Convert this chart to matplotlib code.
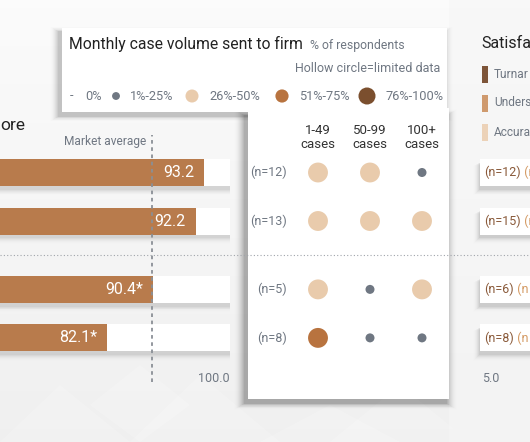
import numpy as np
import matplotlib
matplotlib.use("Agg")
import matplotlib.pyplot as plt
from matplotlib.patches import Rectangle, Polygon

plt.rcParams['font.family'] = ['Roboto', 'DejaVu Sans']

# ---------------- data ----------------
score_labels = ["93.2", "92.2", "90.4*", "82.1*"]
bar_lengths = [88.7, 85.2, 66.5, 46.5]          # read on a 0-100 track scale
market_average = 66.1
track_max = 100.0
row_group = [0, 0, 1, 1]

volume_columns = ["1-49\ncases", "50-99\ncases", "100+\ncases"]
row_counts = ["(n=12)", "(n=13)", "(n=5)", "(n=8)"]
# volume band index: 0='0%', 1='1%-25%', 2='26%-50%', 3='51%-75%', 4='76%-100%'
volume_bands = [[2, 2, 1],
                [2, 2, 2],
                [2, 1, 2],
                [3, 1, 1]]
band_labels = ["0%", "1%-25%", "26%-50%", "51%-75%", "76%-100%"]
band_colors = ["#9aa0a8", "#6f7782", "#e9cbac", "#b8733f", "#7b4f2e"]
band_sizes_grid = [0, 42, 205, 205, 260]
band_sizes_legend = [0, 32, 88, 90, 150]

sat_counts = ["(n=12)", "(n=15)", "(n=6)", "(n=8)"]
sat_legend = ["Turnar", "Unders", "Accura"]   # visible (cropped) part of the labels
sat_colors = ["#7e5539", "#cf9a6e", "#ecd2b8"]

# ---------------- layout helpers ----------------
W, H = 530, 442
fig = plt.figure(figsize=(W / 100, H / 100), dpi=100)

def fr(x0, y0, x1, y1):
    return [x0 / W, 1 - y1 / H, (x1 - x0) / W, (y1 - y0) / H]

bg = fig.add_axes([0, 0, 1, 1])
bg.set_xlim(0, W); bg.set_ylim(H, 0); bg.axis('off')

# background gradient
grad = np.linspace(0, 1, 200)[:, None]
top = np.array([0.985, 0.985, 0.985]); bot = np.array([0.94, 0.94, 0.94])
img = top[None, None, :] * (1 - grad[..., None]) + bot[None, None, :] * grad[..., None]
bg.imshow(img, extent=(0, W, H, 0), aspect='auto', zorder=0)
# faint diamond pattern
for pts in [[(0, 442), (60, 385), (130, 442)], [(130, 442), (200, 375), (280, 442)],
            [(330, 442), (400, 385), (470, 442)], [(90, 405), (140, 365), (190, 405), (140, 442)],
            [(260, 442), (330, 405), (400, 442)]]:
    bg.add_patch(Polygon(pts, closed=True, fc='white', ec='none', alpha=0.18, zorder=0.5))

def shadow(ax, x0, y0, x1, y1, dx=2, dy=4, spread=8, strength=0.05, z=1):
    for i in range(spread, 0, -1):
        ax.add_patch(Rectangle((x0 + dx - i, y0 + dy - i * 0.6), (x1 - x0) + 2 * i,
                               (y1 - y0) + 1.2 * i, fc='black', ec='none',
                               alpha=strength * (1 - i / (spread + 1)) ** 1.5, zorder=z))

# right panel light tone
bg.add_patch(Rectangle((449, 0), 81, H, fc='#f6f6f6', ec='none', zorder=0.8, alpha=0.6))
# legend card
shadow(bg, 62, 28, 447, 112, dx=-3, dy=4, spread=10, strength=0.06)
# middle card
shadow(bg, 248, 112, 449, 399, dx=-3, dy=4, spread=12, strength=0.07)
bg.add_patch(Rectangle((248, 108), 201, 291, fc='white', ec='none', zorder=2))
bg.add_patch(Rectangle((62, 28), 385, 84, fc='white', ec='none', zorder=2.1))

GRAY = '#6f7782'
# legend texts
bg.text(69, 44, "Monthly case volume sent to firm", fontsize=11.3, color='#222222',
        va='center', ha='left', zorder=5)
bg.text(310, 45, "% of respondents", fontsize=8.8, color=GRAY, va='center', zorder=5)
bg.text(440, 68, "Hollow circle=limited data", fontsize=9, color=GRAY,
        va='center', ha='right', zorder=5)
leg_y = 96
bg.text(70, leg_y, "-", fontsize=9.2, color=GRAY, va='center', ha='left', zorder=5)
leg_dot_x = [None, 116, 192, 282, 367]
leg_txt_x = [85, 130, 209, 299, 385]
for i in range(5):
    if leg_dot_x[i] is not None:
        bg.scatter([leg_dot_x[i]], [leg_y], s=band_sizes_legend[i], color=band_colors[i],
                   edgecolors='none', zorder=5)
    bg.text(leg_txt_x[i], leg_y, band_labels[i], fontsize=9.2, color=GRAY,
            va='center', ha='left', zorder=5)

# left panel title and market average
bg.text(0, 126, "ore", fontsize=12.5, color='#222222', va='center', ha='left', zorder=5)
bg.text(146, 142, "Market average", fontsize=8.6, color=GRAY, va='center',
        ha='right', zorder=5)
bg.text(230, 378, "100.0", fontsize=9, color=GRAY, va='center', ha='right', zorder=5)

# right panel title and legend
bg.text(481, 43, "Satisfa", fontsize=11.5, color='#222222', va='center', ha='left', zorder=5)
for i, (lab, col) in enumerate(zip(sat_legend, sat_colors)):
    yc = 74 + i * 29
    bg.add_patch(Rectangle((482, yc - 8.5), 5.5, 17, fc=col, ec='none', zorder=5))
    bg.text(494, yc, lab, fontsize=8.6, color=GRAY, va='center', ha='left', zorder=5)
bg.text(482, 378, "5.0", fontsize=9, color=GRAY, va='center', ha='left', zorder=5)

# ---------------- shared row scale ----------------
row_pos = [i + g * 0.41 for i, g in enumerate(row_group)]
px_per_row = 48.5
ax_top, ax_bot = 110, 400
ylim = ((ax_bot - 172.5) / px_per_row, (ax_top - 172.5) / px_per_row)
bar_h = 27 / px_per_row

# separator line (full width)
sep_y = 172.5 + ((row_pos[1] + row_pos[2]) / 2) * px_per_row
bg.plot([0, W], [sep_y, sep_y], color='#a0a4aa', lw=0.8, ls=(0, (1, 2)), zorder=4)

# ---------------- bar axes ----------------
axb = fig.add_axes(fr(0, ax_top, 230, ax_bot))
axb.set_xlim(0, track_max); axb.set_ylim(*ylim); axb.axis('off')
axb.patch.set_alpha(0)
axb.set_zorder(3)
pxu = 100 / 230
for y in row_pos:
    for i in range(7, 0, -1):
        axb.add_patch(Rectangle((0, y - bar_h / 2 + (3 + i * 0.5) / px_per_row), track_max + 2 * i * pxu,
                                bar_h + (i * 0.4) / px_per_row, fc='black', ec='none',
                                alpha=0.05 * (1 - i / 8) ** 1.5, zorder=1))
axb.barh(row_pos, [track_max] * 4, height=bar_h, color='white', zorder=2)
axb.barh(row_pos, bar_lengths, height=bar_h, color='#b87b4c', zorder=3)
for y, v, lab in zip(row_pos, bar_lengths, score_labels):
    axb.text(v - 10 * pxu, y, lab, color='white', fontsize=11.5, va='center', ha='right', zorder=4)
axb.plot([market_average, market_average], [(382 - 172.5) / px_per_row, (135 - 172.5) / px_per_row],
         color='#8a8f96', lw=1.3, ls=(0, (2, 2)), zorder=5, clip_on=False)

# ---------------- dot axes ----------------
axd = fig.add_axes(fr(248, ax_top, 449, ax_bot))
axd.set_xlim(-70 / 52, 2 + 27 / 52); axd.set_ylim(*ylim); axd.axis('off')
axd.patch.set_alpha(0); axd.set_zorder(3)
xs, ys, cs, ss = [], [], [], []
for r, y in enumerate(row_pos):
    for c in range(3):
        b = volume_bands[r][c]
        xs.append(c); ys.append(y); cs.append(band_colors[b]); ss.append(band_sizes_grid[b])
axd.scatter(xs, ys, s=ss, c=cs, edgecolors='none', zorder=3)
for c, lab in enumerate(volume_columns):
    axd.text(c, (138 - 172.5) / px_per_row, lab, fontsize=9.5, color='#333333',
             ha='center', va='center', linespacing=1.1)
for y, lab in zip(row_pos, row_counts):
    axd.text(-0.6, y, lab, fontsize=9, color=GRAY, ha='right', va='center')

# ---------------- right axes ----------------
axr = fig.add_axes(fr(449, ax_top, 530, ax_bot))
axr.set_xlim(0, 81); axr.set_ylim(*ylim); axr.axis('off')
axr.patch.set_alpha(0); axr.set_zorder(3)
for y in row_pos:
    for i in range(7, 0, -1):
        axr.add_patch(Rectangle((31 - i, y - bar_h / 2 + (3 + i * 0.5) / px_per_row), 60,
                                bar_h + (i * 0.4) / px_per_row, fc='black', ec='none',
                                alpha=0.06 * (1 - i / 8) ** 1.5, zorder=1))
axr.barh(row_pos, [60] * 4, left=31, height=bar_h, color='white', zorder=2)
for y, lab in zip(row_pos, sat_counts):
    t = axr.text(35, y, lab, fontsize=9, color='#8a5a3a', ha='left', va='center', zorder=3)
    axr.annotate(" (n", xycoords=t, xy=(1, 0.5), va='center', ha='left',
                 fontsize=9, color='#d49a63', zorder=3)

fig.savefig("out.png", dpi=100)
